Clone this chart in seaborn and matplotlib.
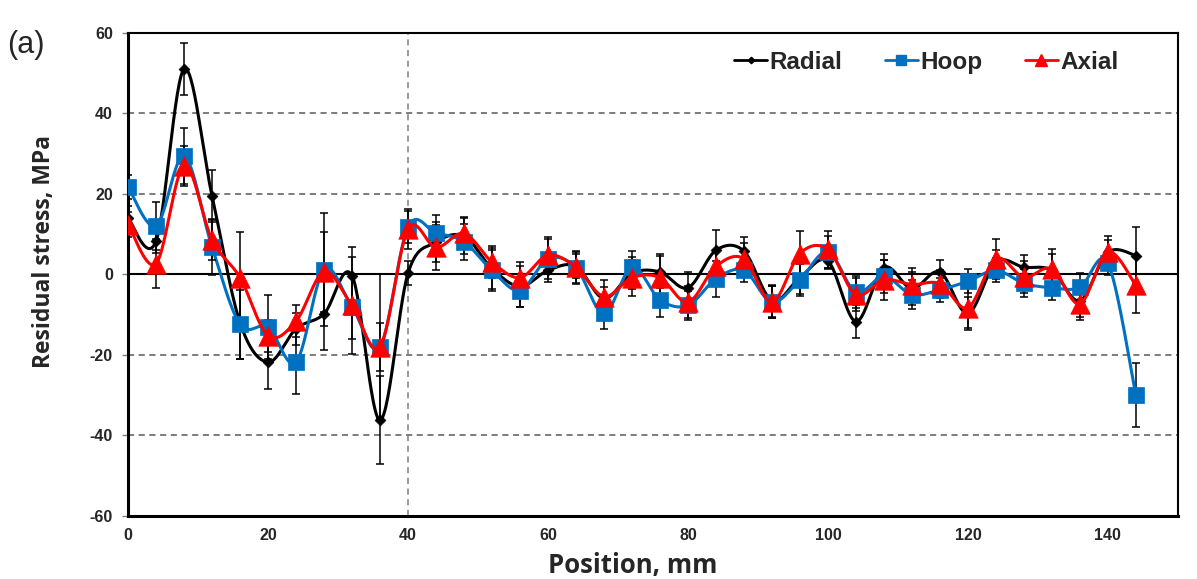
import numpy as np
import matplotlib
matplotlib.use("Agg")
import matplotlib.pyplot as plt
from matplotlib.lines import Line2D
import seaborn as sns

# Positions along the sample (mm)
positions = np.arange(0, 145, 4)

radial = [14, 8.3, 51, 19.5, -12, -21.8, -13.5, -9.8, -0.3, -36.2, 0.3,
          8, 9.5, 1.5, -3, 1, 2, -6, 0.3, 0.6, -3.3, 6, 5.8, -6.5,
          -0.8, 3.3, -11.7, 1.7, -3.5, 0.6, -9.7, 3, 1.8, 1, -6.5, 5.5, 4.7]
hoop = [21.7, 12, 29.4, 6.8, -12.4, -13.1, -21.8, 1.2, -8.1, -18, 11.8,
        10.3, 8.1, 1, -4, 3.9, 1.7, -9.7, 1.8, -6.3, -7.7, -1.1, 1, -6.9,
        -1.3, 5.6, -4.4, -0.5, -5, -3.8, -1.7, 1, -2.2, -3.3, -3.2, 2.8, -30]
axial = [12.4, 2.7, 27, 8.6, -0.8, -15.2, -11.6, 0.6, -7.7, -18, 11.2,
         6.7, 10.2, 3.1, -0.8, 4.8, 1.8, -5.5, -0.8, -0.8, -6.9, 2, 3.9, -6.9,
         5.2, 6.2, -5, -1.3, -2.5, -2.3, -8.3, 3.9, -0.7, 1.4, -7.3, 5.6, -2.7]

radial_err = [3, 3, 6.5, 6.5, 9, 6.6, 4, 9, 7, 11, 3,
              5, 4.5, 5, 5, 3, 3, 3, 4, 4, 4, 5, 3.5, 4,
              4, 2, 4, 3.5, 4, 3, 4, 3, 3, 4, 4, 3, 7]
hoop_err = [3, 6, 7, 7, 8.6, 8, 8, 14, 8, 18, 4,
            4.4, 4.5, 5, 4, 5, 4, 3.8, 4, 4.2, 3.5, 4.5, 3, 4,
            4, 4, 4, 4, 3.5, 3, 3, 3, 3.5, 3, 3.5, 3, 8]
axial_err = [3, 6, 5, 5, 11.4, 4, 4, 10, 12, 6, 5,
             5.7, 4, 4, 4, 4.5, 4, 4, 4.5, 6, 4, 4, 4, 4,
             5.5, 4.5, 4, 5, 4, 3.5, 5, 5, 4, 5, 4, 4, 7]

series = [
    ("Radial", radial, radial_err, "#000000", "D", 5.5),
    ("Hoop", hoop, hoop_err, "#0070C0", "s", 12),
    ("Axial", axial, axial_err, "#FF0000", "^", 14),
]


def excel_smooth(x, y, steps=30):
    """Bezier smoothing like Excel's 'smoothed line' option."""
    x = np.asarray(x, float)
    y = np.asarray(y, float)
    px = np.concatenate([[x[0]], x, [x[-1]]])
    py = np.concatenate([[y[0]], y, [y[-1]]])
    t = np.linspace(0, 1, steps)
    xs, ys = [], []
    for i in range(len(x) - 1):
        x0, y0 = px[i + 1], py[i + 1]
        x3, y3 = px[i + 2], py[i + 2]
        x1 = x0 + (px[i + 2] - px[i]) / 6
        y1 = y0 + (py[i + 2] - py[i]) / 6
        x2 = x3 - (px[i + 3] - px[i + 1]) / 6
        y2 = y3 - (py[i + 3] - py[i + 1]) / 6
        b0, b1, b2, b3 = (1 - t) ** 3, 3 * t * (1 - t) ** 2, 3 * t ** 2 * (1 - t), t ** 3
        xs.append(b0 * x0 + b1 * x1 + b2 * x2 + b3 * x3)
        ys.append(b0 * y0 + b1 * y1 + b2 * y2 + b3 * y3)
    return np.concatenate(xs), np.concatenate(ys)


sns.set_theme(style="white")
plt.rcParams["font.family"] = ["Liberation Sans", "DejaVu Sans"]
plt.rcParams["axes.unicode_minus"] = False

fig = plt.figure(figsize=(11.97, 5.79), dpi=100)
ax = fig.add_axes([0.107, 0.109, 0.877, 0.834])

# grid lines
for yv in [-40, -20, 20, 40]:
    ax.axhline(yv, color="#595959", lw=1.1, ls=(0, (4, 3)), zorder=1)
ax.axhline(0, color="black", lw=1.5, zorder=1)
ax.axvline(40, color="#7f7f7f", lw=1.1, ls=(0, (4, 3)), zorder=1)

handles = []
for i, (name, vals, err, color, marker, ms) in enumerate(series):
    ax.errorbar(positions, vals, yerr=err, fmt="none", ecolor="black",
                elinewidth=1.1, capsize=3, capthick=1.1, zorder=2 + i)
    sx, sy = excel_smooth(positions, vals)
    ax.plot(sx, sy, color=color, lw=2.2, zorder=3 + i)
    sns.scatterplot(x=positions, y=vals, ax=ax, color=color, marker=marker,
                    s=ms ** 2, edgecolor=color, linewidth=0.5, zorder=4 + i)
    handles.append(Line2D([0], [0], color=color, lw=2, marker=marker,
                          markersize=ms * 0.6, label=name))

ax.set_xlim(0, 150)
ax.set_ylim(-60, 60)
ax.set_xticks(np.arange(0, 141, 20))
ax.set_yticks(np.arange(-60, 61, 20))
ax.tick_params(axis="x", length=0, pad=9, labelsize=11.5)
ax.tick_params(axis="y", length=4, width=1, color="#7f7f7f", direction="out",
               pad=7, labelsize=11.5, left=True)
for lab in ax.get_xticklabels() + ax.get_yticklabels():
    lab.set_fontweight("bold")

for side in ["left", "bottom"]:
    ax.spines[side].set_linewidth(2.2)
    ax.spines[side].set_color("black")
for side in ["top", "right"]:
    ax.spines[side].set_linewidth(1.5)
    ax.spines[side].set_color("black")

ax.set_xlabel("Position, mm", fontsize=18.5, fontweight="bold",
              family=["Open Sans", "DejaVu Sans"])
ax.xaxis.set_label_coords(0.481, -0.075)
ax.set_ylabel("Residual stress, MPa", fontsize=16.5, fontweight="bold",
              family=["Open Sans", "DejaVu Sans"])
ax.yaxis.set_label_coords(-0.069, 0.548)

leg = ax.legend(handles=handles, loc="upper right", ncol=3, frameon=False,
                bbox_to_anchor=(0.964, 1.009), handlelength=1.35, handletextpad=0.1,
                columnspacing=1.75, prop={"weight": "bold", "size": 17.5})

fig.text(0.006, 0.923, "(a)", fontsize=22, va="center")

fig.savefig("out.png", dpi=100)
